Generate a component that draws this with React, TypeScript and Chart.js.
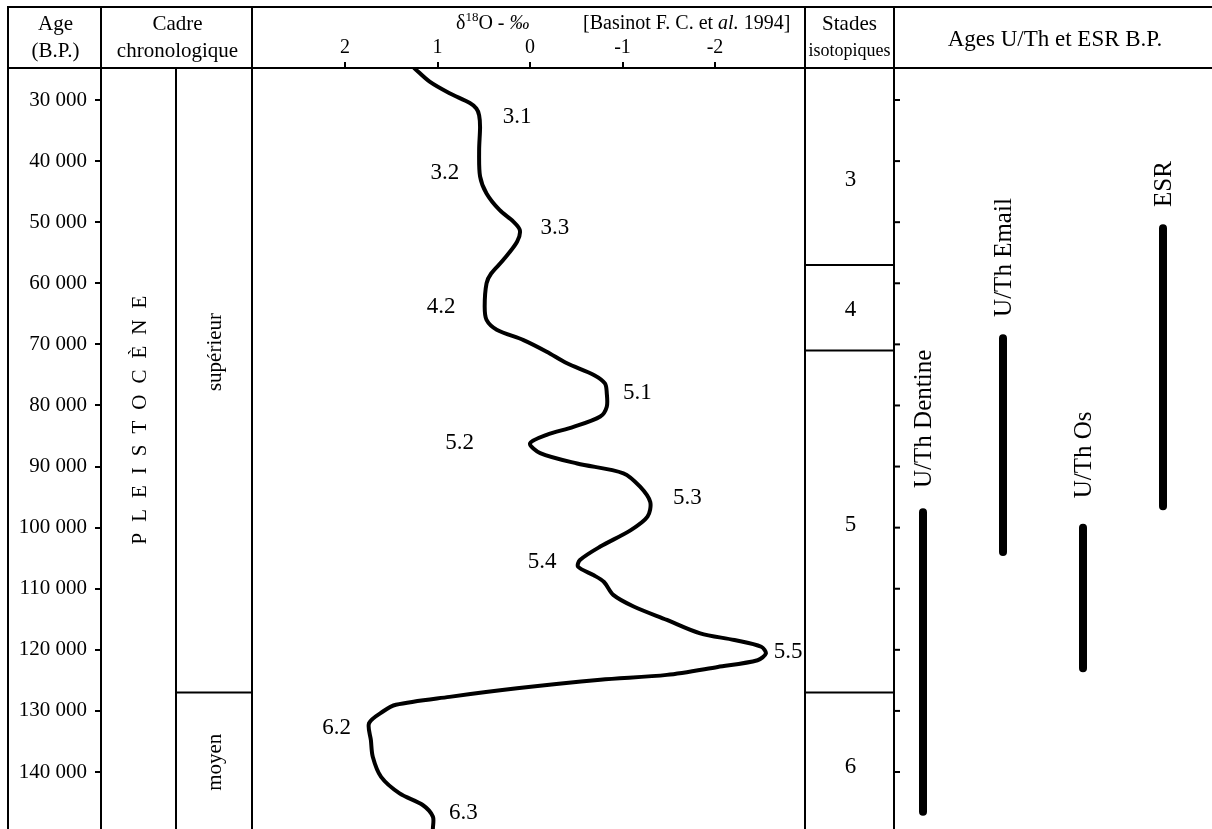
import React, { useEffect, useRef } from "react";
import { Chart, registerables } from "chart.js";

Chart.register(...registerables);

const SERIF = '"Liberation Serif", "Times New Roman", serif';

// ---------- data ----------
const AGE_TICKS = [30000, 40000, 50000, 60000, 70000, 80000, 90000, 100000, 110000, 120000, 130000, 140000];
const D18O_TICKS = [2, 1, 0, -1, -2];

const CURVE_AGE = [
  24800, 27000, 28900, 30500, 31400, 32500, 34400, 38200, 42500, 45300, 48000, 49900, 51300, 53200,
  56200, 58400, 60000, 63800, 66000, 67600, 69300, 71200, 73100, 75000, 76400, 78000, 80200, 81800,
  83500, 84800, 86200, 87800, 89500, 91100, 93300, 95800, 98200, 100400, 103100, 105300, 106400,
  107800, 108900, 111000, 112900, 115100, 117300, 118400, 119500, 120600, 121700, 122800, 124100,
  124900, 126300, 127700, 129000, 130100, 132000, 134800, 137500, 140800, 143500, 145400, 147300, 149300,
];
const CURVE_D18O = [
  1.25, 1.085, 0.87, 0.65, 0.58, 0.55, 0.54, 0.55, 0.54, 0.47, 0.33, 0.18, 0.11, 0.14,
  0.29, 0.42, 0.47, 0.49, 0.47, 0.36, 0.07, -0.18, -0.4, -0.69, -0.81, -0.83, -0.83, -0.76,
  -0.47, -0.18, 0.0, -0.11, -0.51, -1.01, -1.19, -1.3, -1.27, -1.09, -0.76, -0.54, -0.52,
  -0.69, -0.8, -0.9, -1.12, -1.48, -1.84, -2.21, -2.5, -2.55, -2.46, -2.03, -1.48,
  -0.76, 0.14, 0.87, 1.45, 1.59, 1.74, 1.72, 1.7, 1.61, 1.41, 1.16, 1.05, 1.05,
];

const PEAK_NAMES = ["3.1", "3.2", "3.3", "4.2", "5.1", "5.2", "5.3", "5.4", "5.5", "6.2", "6.3"];
const PEAK_D18O = [0.14, 0.92, -0.27, 0.96, -1.16, 0.76, -1.7, -0.13, -2.79, 2.09, 0.72];
const PEAK_AGE = [32700, 41950, 50950, 63850, 78000, 86150, 95200, 105600, 120300, 132850, 146750];

const STAGE_BOUNDS = [57000, 71000, 127000];
const STAGE_NAMES = ["3", "4", "5", "6"];
const STAGE_LABEL_AGE = [43100, 64400, 99600, 139100];

const EPOCH_NAME = "PLEISTOCÈNE";
const EPOCH_LABEL_AGE = 82400;
const PERIOD_BOUND = 127000;
const PERIOD_NAMES = ["supérieur", "moyen"];
const PERIOD_LABEL_AGE = [71250, 138400];

const METHODS = ["U/Th Dentine", "U/Th Email", "U/Th Os", "ESR"];
const METHOD_SLOT = [1, 2, 3, 4];
const METHOD_MIN = [97500, 69000, 100000, 51000];
const METHOD_MAX = [146500, 104000, 123000, 96500];
const METHOD_LABEL_AGE = [93500, 65500, 95200, 47500];

// ---------- scale ranges ----------
const AGE_MIN = 24760;
const AGE_MAX = 149330;
const D_MIN = -7.373;
const D_MAX = 4.638;
const SLOT_MIN = -9.275;
const SLOT_MAX = 4.6125;

// ---------- layout ----------
const W = 1212;
const H = 829;
const TOP = 7;
const HEAD = 68;
const X_LEFT = 8;
const X_AGE = 101;
const X_CADRE_MID = 176;
const X_CADRE = 252;
const X_D18O = 805;
const X_STADES = 894;

const fmtAge = (v: number) => String(v).replace(/\B(?=(\d{3})+(?!\d))/g, " ");

const tablePlugin = {
  id: "tablePlugin",
  afterDraw(chart: any) {
    const ctx: CanvasRenderingContext2D = chart.ctx;
    const ys = chart.scales.y;
    const xs = chart.scales.x;
    const xb = chart.scales.xb;
    ctx.save();
    ctx.fillStyle = "#000";
    ctx.strokeStyle = "#000";
    ctx.lineCap = "butt";

    const line = (x1: number, y1: number, x2: number, y2: number, w = 2) => {
      ctx.lineWidth = w;
      ctx.beginPath();
      ctx.moveTo(x1, y1);
      ctx.lineTo(x2, y2);
      ctx.stroke();
    };

    // table frame
    line(X_LEFT - 1, TOP, W, TOP);
    line(X_LEFT - 1, HEAD, W, HEAD);
    [X_LEFT, X_AGE, X_CADRE, X_D18O, X_STADES].forEach((x) => line(x, TOP - 1, x, H));
    line(X_CADRE_MID, HEAD, X_CADRE_MID, H);
    const pb = ys.getPixelForValue(PERIOD_BOUND);
    line(X_CADRE_MID, pb, X_CADRE, pb);
    STAGE_BOUNDS.forEach((a) => {
      const p = ys.getPixelForValue(a);
      line(X_D18O, p, X_STADES, p);
    });
    AGE_TICKS.forEach((a) => {
      const p = ys.getPixelForValue(a);
      line(X_STADES, p, X_STADES + 6, p);
    });

    const text = (s: string, x: number, y: number, size: number, align: CanvasTextAlign = "center", style = "") => {
      ctx.font = `${style}${size}px ${SERIF}`;
      ctx.textAlign = align;
      ctx.textBaseline = "alphabetic";
      ctx.fillText(s, x, y);
    };

    // headers
    const cAge = (X_LEFT + X_AGE) / 2 + 1;
    text("Age", cAge, 30, 21);
    text("(B.P.)", cAge, 57, 21);
    const cCadre = (X_AGE + X_CADRE) / 2 + 1;
    text("Cadre", cCadre, 30, 21);
    text("chronologique", cCadre, 57, 21);
    const cSt = (X_D18O + X_STADES) / 2;
    text("Stades", cSt, 30, 21);
    text("isotopiques", cSt, 56, 18);
    text("Ages U/Th et ESR B.P.", (X_STADES + W) / 2 + 2, 46, 23);

    // delta header
    ctx.textAlign = "left";
    ctx.textBaseline = "alphabetic";
    let hx = 456;
    ctx.font = `20px ${SERIF}`;
    ctx.fillText("δ", hx, 29);
    hx += ctx.measureText("δ").width;
    ctx.font = `13px ${SERIF}`;
    ctx.fillText("18", hx, 21);
    hx += ctx.measureText("18").width;
    ctx.font = `20px ${SERIF}`;
    ctx.fillText("O - ", hx, 29);
    hx += ctx.measureText("O - ").width;
    ctx.font = `italic 20px ${SERIF}`;
    ctx.fillText("‰", hx, 29);
    hx = 583;
    ctx.font = `20px ${SERIF}`;
    ctx.fillText("[Basinot F. C. et ", hx, 29);
    hx += ctx.measureText("[Basinot F. C. et ").width;
    ctx.font = `italic 20px ${SERIF}`;
    ctx.fillText("al.", hx, 29);
    hx += ctx.measureText("al.").width;
    ctx.font = `20px ${SERIF}`;
    ctx.fillText(" 1994]", hx, 29);

    // rotated texts
    const vtext = (s: string, cx: number, cy: number, size: number, baselineShift: number) => {
      ctx.save();
      ctx.translate(cx + baselineShift, cy);
      ctx.rotate(-Math.PI / 2);
      ctx.font = `${size}px ${SERIF}`;
      ctx.textAlign = "center";
      ctx.textBaseline = "alphabetic";
      ctx.fillText(s, 0, 0);
      ctx.restore();
    };

    // PLEISTOCÈNE spaced letters
    {
      const size = 21;
      const cy = ys.getPixelForValue(EPOCH_LABEL_AGE);
      ctx.save();
      ctx.translate(139 + size * 0.33, cy);
      ctx.rotate(-Math.PI / 2);
      ctx.font = `${size}px ${SERIF}`;
      ctx.textAlign = "left";
      ctx.textBaseline = "alphabetic";
      const letters = EPOCH_NAME.split("");
      const widths = letters.map((l) => ctx.measureText(l).width);
      const gap = 11;
      const total = widths.reduce((a, b) => a + b, 0) + gap * (letters.length - 1);
      let lx = -total / 2;
      letters.forEach((l, i) => {
        ctx.fillText(l, lx, 0);
        lx += widths[i] + gap;
      });
      ctx.restore();
    }

    PERIOD_NAMES.forEach((n, i) => {
      vtext(n, 215, ys.getPixelForValue(PERIOD_LABEL_AGE[i]), 21, 6);
    });

    // stages
    STAGE_NAMES.forEach((n, i) => {
      ctx.font = `23px ${SERIF}`;
      ctx.textAlign = "center";
      ctx.textBaseline = "middle";
      ctx.fillText(n, cSt + 1, ys.getPixelForValue(STAGE_LABEL_AGE[i]));
    });

    // peak labels
    PEAK_NAMES.forEach((n, i) => {
      ctx.font = `23px ${SERIF}`;
      ctx.textAlign = "center";
      ctx.textBaseline = "middle";
      ctx.fillText(n, xs.getPixelForValue(PEAK_D18O[i]), ys.getPixelForValue(PEAK_AGE[i]));
    });

    // method labels (rotated, ending just above each bar)
    METHODS.forEach((m, i) => {
      const size = 25;
      const x = xb.getPixelForValue(METHOD_SLOT[i]);
      const y = ys.getPixelForValue(METHOD_LABEL_AGE[i]);
      ctx.save();
      ctx.translate(x + size * 0.33, y);
      ctx.rotate(-Math.PI / 2);
      ctx.font = `${size}px ${SERIF}`;
      ctx.textAlign = "left";
      ctx.textBaseline = "alphabetic";
      ctx.fillText(m, 0, 0);
      ctx.restore();
    });

    ctx.restore();
  },
};

export default function App() {
  const canvasRef = useRef<HTMLCanvasElement | null>(null);

  useEffect(() => {
    const canvas = canvasRef.current;
    if (!canvas) return;
    const chart = new Chart(canvas, {
      type: "line",
      data: {
        datasets: [
          {
            label: "δ18O",
            data: CURVE_AGE.map((a, i) => ({ x: CURVE_D18O[i], y: a })),
            xAxisID: "x",
            yAxisID: "y",
            borderColor: "#000",
            borderWidth: 4,
            pointRadius: 0,
            tension: 0.3,
            borderJoinStyle: "round",
            borderCapStyle: "round",
            fill: false,
          } as any,
          ...METHODS.map((m, i) => ({
            label: m,
            data: [
              { x: METHOD_SLOT[i], y: METHOD_MIN[i] },
              { x: METHOD_SLOT[i], y: METHOD_MAX[i] },
            ],
            xAxisID: "xb",
            yAxisID: "y",
            borderColor: "#000",
            borderWidth: 8,
            borderCapStyle: "round",
            pointRadius: 0,
            fill: false,
          })) as any[],
        ],
      },
      options: {
        responsive: false,
        animation: false,
        devicePixelRatio: 1,
        events: [],
        layout: { padding: { left: X_LEFT, top: TOP, right: 0, bottom: 0 } },
        plugins: { legend: { display: false }, tooltip: { enabled: false } },
        scales: {
          x: {
            type: "linear",
            position: "top",
            reverse: true,
            min: D_MIN,
            max: D_MAX,
            afterBuildTicks: (s: any) => {
              s.ticks = D18O_TICKS.map((v) => ({ value: v }));
            },
            afterFit: (s: any) => {
              s.height = HEAD - TOP;
              s.paddingLeft = 0;
              s.paddingRight = 0;
              s.paddingTop = 0;
              s.paddingBottom = 0;
            },
            grid: { drawOnChartArea: false, tickLength: 6, color: "#000", lineWidth: 2 },
            border: { display: false },
            ticks: {
              color: "#000",
              font: { family: SERIF, size: 20 },
              padding: 2,
              maxRotation: 0,
              autoSkip: false,
              callback: (v: any) => String(v),
            },
          },
          xb: { type: "linear", display: false, min: SLOT_MIN, max: SLOT_MAX },
          y: {
            type: "linear",
            position: "left",
            reverse: true,
            min: AGE_MIN,
            max: AGE_MAX,
            afterBuildTicks: (s: any) => {
              s.ticks = AGE_TICKS.map((v) => ({ value: v }));
            },
            afterFit: (s: any) => {
              s.width = X_AGE - X_LEFT;
              s.paddingTop = 0;
              s.paddingBottom = 0;
              s.paddingLeft = 0;
              s.paddingRight = 0;
            },
            grid: { drawOnChartArea: false, tickLength: 6, color: "#000", lineWidth: 2 },
            border: { display: false },
            ticks: {
              color: "#000",
              font: { family: SERIF, size: 21 },
              padding: 8,
              autoSkip: false,
              callback: (v: any) => fmtAge(Number(v)),
            },
          },
        } as any,
      },
      plugins: [tablePlugin],
    });
    return () => chart.destroy();
  }, []);

  return (
    <div style={{ position: "absolute", left: 0, top: 0, width: W, height: H, background: "#fff" }}>
      <canvas ref={canvasRef} width={W} height={H} style={{ display: "block", width: W, height: H }} />
    </div>
  );
}
